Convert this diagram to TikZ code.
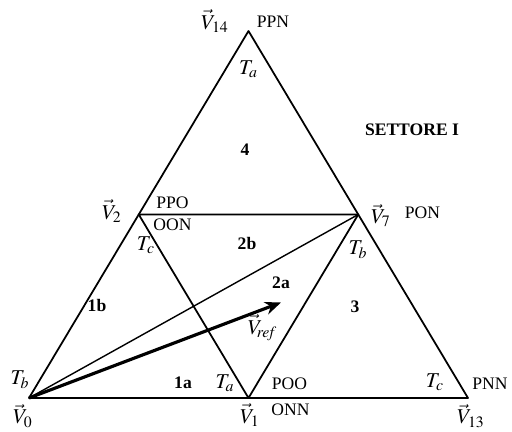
\documentclass[tikz,border=0pt]{standalone}
\usepackage{mathptmx}
\usepackage{fontspec}
\setmainfont{Liberation Serif}
\usetikzlibrary{arrows.meta, positioning}
\tikzset{
  side/.style  = {draw, line width=1pt, line join=round},
  chord/.style = {draw, line width=0.8pt},
  vref/.style  = {-{Stealth[length=3.2mm, width=2.6mm]}, line width=1.8pt},
  vlbl/.style  = {font=\large, inner sep=1pt},
  state/.style = {font=\normalsize, inner sep=1pt},
  tlbl/.style  = {font=\large, inner sep=1pt},
  zone/.style  = {font=\normalsize\bfseries, inner sep=1pt},
}

\begin{document}
\begin{tikzpicture}
  \useasboundingbox (0,0) rectangle (10.24,8.62);
  % vertices of the sector
  \coordinate (v0)  at (0.58,0.66);
  \coordinate (v1)  at (4.97,0.66);
  \coordinate (v13) at (9.36,0.66);
  \coordinate (v14) at (4.97,8.00);
  \coordinate (v2)  at (2.775,4.33);
  \coordinate (v7)  at (7.165,4.33);
  % triangles
  \draw[side] (v0) -- (v13) -- (v14) -- cycle;
  \draw[side] (v2) -- (v7) -- (v1) -- cycle;
  \draw[chord] (v0) -- (v7);
  \coordinate (ref) at (5.62,2.57);
  \draw[vref] (v0) -- (ref);
  % vector labels
  \node[vlbl] (l14) at (4.30,8.20) {$\vec{V}_{14}$};
  \node[vlbl] (l2)  at (2.24,4.40) {$\vec{V}_{2}$};
  \node[vlbl] (l7)  at (7.62,4.31) {$\vec{V}_{7}$};
  \node[vlbl] (l0)  at (0.46,0.30) {$\vec{V}_{0}$};
  \node[vlbl] (l1)  at (5.00,0.32) {$\vec{V}_{1}$};
  \node[vlbl] (l13) at (9.42,0.30) {$\vec{V}_{13}$};
  \node[vlbl] (lref) at (5.25,2.06) {$\vec{V}_{\!\mathit{ref}}$};
  % switching states
  \node[state] (ppn) at (5.46,8.19) {PPN};
  \node[state] (ppo) at (3.45,4.57) {PPO};
  \node[state] (oon) at (3.45,4.13) {OON};
  \node[state] (pon) at (8.45,4.36) {PON};
  \node[state] (poo) at (5.79,0.94) {POO};
  \node[state] (onn) at (5.81,0.43) {ONN};
  \node[state] (pnn) at (9.80,0.94) {PNN};
  % times
  \node[tlbl] (ta1) at (4.97,7.23) {$T_a$};
  \node[tlbl] (tc1) at (2.92,3.72) {$T_c$};
  \node[tlbl] (tb1) at (7.16,3.62) {$T_b$};
  \node[tlbl] (tb2) at (0.40,1.02) {$T_b$};
  \node[tlbl] (ta2) at (4.50,0.96) {$T_a$};
  \node[tlbl] (tc2) at (8.70,0.98) {$T_c$};
  % regions
  \node[zone] (z4)  at (4.90,5.62) {4};
  \node[zone] (z2b) at (4.94,3.76) {2b};
  \node[zone] (z1b) at (1.94,2.52) {1b};
  \node[zone] (z2a) at (5.62,2.96) {2a};
  \node[zone] (z3)  at (7.10,2.48) {3};
  \node[zone] (z1a) at (3.66,0.96) {1a};
  \node[zone] (set) at (8.24,6.02) {SETTORE I};
\end{tikzpicture}
\end{document}
